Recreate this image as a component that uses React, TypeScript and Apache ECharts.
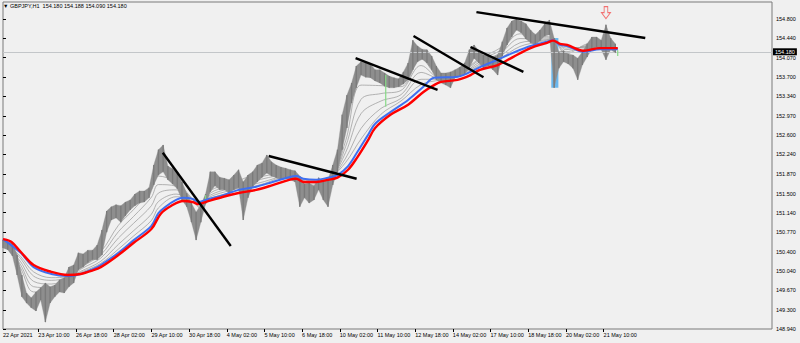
import React, { useEffect, useRef } from "react";
import * as echarts from "echarts";

// ---------- DATA ----------
const titleText = "▼ GBPJPY,H1  154.180 154.188 154.090 154.180";
const lastPrice = 154.18;

// x axis: hours since 22 Apr 2021 04:00 (H1 bars)
const tickHours = [0, 30, 62, 94, 126, 158, 190, 222, 254, 286, 318, 350, 382, 414, 446, 478, 510];
const tickLabels = [
  "22 Apr 2021", "23 Apr 10:00", "26 Apr 18:00", "28 Apr 02:00", "29 Apr 10:00", "30 Apr 18:00",
  "4 May 02:00", "5 May 10:00", "6 May 18:00", "10 May 02:00", "11 May 10:00", "12 May 18:00",
  "14 May 02:00", "17 May 10:00", "18 May 18:00", "20 May 02:00", "21 May 10:00",
];
const yTicks = [148.94, 149.3, 149.67, 150.04, 150.4, 150.77, 151.14, 151.5, 151.87, 152.24, 152.6, 152.97, 153.34, 153.7, 154.07, 154.44, 154.8];

// price ranges, one per 4 hours
const barStepHours = 4;
const barHigh = [
  150.62, 150.59, 150.57, 150.34, 149.96, 149.62, 149.53, 149.64, 149.72, 149.81,
  149.74, 149.77, 149.87, 149.91, 150.11, 150.15, 150.38, 150.36, 150.43, 150.43,
  150.53, 150.81, 151.17, 151.25, 151.29, 151.27, 151.34, 151.38, 151.49, 151.55,
  151.55, 151.61, 152.04, 152.33, 152.42, 152.02, 151.97, 151.87, 151.72, 151.51,
  151.32, 151.15, 151.29, 151.49, 151.91, 151.91, 151.81, 151.79, 151.76, 151.85,
  151.95, 151.72, 151.85, 151.91, 152.04, 152.08, 152.23, 152.10, 152.04, 152.00,
  151.98, 151.95, 151.93, 151.83, 151.68, 151.70, 151.64, 151.80, 151.72, 151.76,
  152.04, 152.33, 152.99, 153.36, 153.59, 153.91, 153.99, 153.97, 153.95, 153.84,
  153.84, 153.78, 153.72, 153.69, 153.67, 153.80, 153.97, 154.40, 154.29, 154.23,
  154.22, 154.10, 153.91, 153.78, 153.78, 153.80, 153.84, 153.89, 153.97, 154.22,
  154.31, 154.20, 154.12, 154.12, 154.08, 154.12, 154.37, 154.63, 154.76, 154.80,
  154.76, 154.71, 154.59, 154.50, 154.59, 154.71, 154.78, 154.44, 154.18, 154.20,
  154.14, 154.12, 154.06, 154.18, 154.33, 154.46, 154.46, 154.40, 154.69, 154.44,
  154.33,
];
const barLow = [
  150.47, 150.44, 150.32, 149.96, 149.55, 149.43, 149.34, 149.28, 149.49, 149.07,
  149.43, 149.55, 149.64, 149.62, 149.74, 149.81, 150.06, 150.11, 150.19, 150.25,
  150.25, 150.34, 150.77, 151.00, 151.04, 150.96, 151.08, 151.19, 151.27, 151.32,
  151.34, 151.42, 151.66, 151.85, 151.91, 151.76, 151.68, 151.59, 151.38, 151.25,
  150.96, 150.62, 150.96, 151.30, 151.53, 151.65, 151.57, 151.57, 151.51, 151.57,
  151.61, 151.00, 151.42, 151.63, 151.72, 151.81, 151.89, 151.83, 151.80, 151.76,
  151.78, 151.76, 151.72, 151.25, 151.42, 151.32, 151.38, 151.57, 151.38, 151.25,
  151.66, 151.91, 152.33, 152.74, 153.21, 153.50, 153.74, 153.70, 153.69, 153.63,
  153.59, 153.53, 153.50, 153.50, 153.52, 153.57, 153.65, 153.84, 153.99, 154.04,
  153.97, 153.84, 153.65, 153.59, 153.55, 153.50, 153.69, 153.72, 153.76, 153.87,
  154.06, 153.97, 153.87, 153.91, 153.84, 153.74, 154.10, 154.31, 154.46, 154.59,
  154.54, 154.42, 154.35, 154.31, 154.39, 154.48, 154.50, 153.50, 153.87, 153.99,
  153.95, 153.87, 153.65, 153.93, 154.08, 154.23, 154.27, 154.22, 154.03, 154.22,
  154.16,
];

// green bars: [hour, low, high]
const greenBars = [
  [172, 151.38, 151.47],
  [325, 153.14, 153.74],
  [522, 154.1, 154.21],
];

// slow moving averages
const redHours = [0, 7, 15, 26, 41, 55, 66, 75, 83, 98, 111, 126, 134, 143, 153, 161, 166, 172, 187, 200, 215, 229, 243, 249, 255, 266, 276, 284, 293, 301, 310, 316, 329, 344, 357, 366, 372, 386, 397, 405, 420, 433, 448, 462, 467, 473, 479, 493, 507, 522];
const redMA = [150.64, 150.59, 150.40, 150.15, 150.02, 149.96, 149.98, 150.04, 150.11, 150.34, 150.57, 150.83, 151.12, 151.27, 151.36, 151.34, 151.30, 151.34, 151.44, 151.51, 151.57, 151.66, 151.76, 151.78, 151.72, 151.72, 151.76, 151.80, 151.95, 152.19, 152.51, 152.74, 152.99, 153.18, 153.42, 153.55, 153.61, 153.65, 153.74, 153.84, 153.93, 154.08, 154.25, 154.35, 154.39, 154.33, 154.31, 154.20, 154.25, 154.25];
const blueHours = [0, 15, 26, 41, 55, 66, 75, 83, 98, 111, 126, 132, 138, 147, 153, 161, 166, 172, 187, 200, 215, 229, 243, 249, 255, 266, 276, 284, 293, 301, 310, 316, 329, 344, 357, 366, 386, 397, 405, 420, 433, 448, 462, 467, 473, 479, 493, 507, 522];
const blueMA = [150.64, 150.38, 150.11, 149.98, 149.94, 149.98, 150.06, 150.15, 150.38, 150.62, 150.89, 151.13, 151.25, 151.38, 151.42, 151.40, 151.34, 151.38, 151.47, 151.57, 151.63, 151.72, 151.81, 151.83, 151.78, 151.76, 151.80, 151.85, 152.02, 152.29, 152.61, 152.82, 153.04, 153.27, 153.52, 153.69, 153.71, 153.80, 153.89, 154.03, 154.16, 154.29, 154.37, 154.40, 154.31, 154.29, 154.18, 154.23, 154.23];

// grey ribbon of faster averages
const greyHours = [0, 15, 26, 41, 55, 66, 83, 98, 111, 126, 132, 147, 160, 168, 176, 193, 219, 244, 261, 278, 291, 304, 321, 338, 355, 372, 389, 405, 422, 439, 456, 467, 478, 499, 522];
const grey1 = [150.62, 150.09, 149.64, 149.66, 149.84, 150.13, 150.40, 150.90, 151.20, 151.58, 151.83, 151.72, 151.42, 151.21, 151.55, 151.68, 151.88, 151.90, 151.62, 151.76, 152.50, 153.55, 153.54, 153.52, 154.05, 153.68, 153.79, 154.06, 154.25, 154.61, 154.48, 154.44, 154.14, 154.34, 154.23];
const grey2 = [150.62, 150.15, 149.74, 149.72, 149.86, 150.10, 150.34, 150.78, 151.07, 151.43, 151.67, 151.64, 151.41, 151.24, 151.51, 151.64, 151.82, 151.88, 151.65, 151.77, 152.39, 153.28, 153.39, 153.45, 153.92, 153.67, 153.78, 154.03, 154.20, 154.52, 154.45, 154.43, 154.18, 154.31, 154.24];
const grey3 = [150.62, 150.21, 149.84, 149.79, 149.89, 150.07, 150.28, 150.66, 150.94, 151.27, 151.51, 151.57, 151.41, 151.28, 151.47, 151.60, 151.77, 151.86, 151.68, 151.79, 152.28, 153.01, 153.25, 153.37, 153.79, 153.67, 153.76, 153.99, 154.15, 154.43, 154.42, 154.42, 154.22, 154.29, 154.24];
const grey4 = [150.62, 150.27, 149.94, 149.86, 149.91, 150.03, 150.22, 150.54, 150.80, 151.11, 151.35, 151.49, 151.40, 151.31, 151.44, 151.56, 151.71, 151.84, 151.71, 151.80, 152.17, 152.73, 153.11, 153.30, 153.66, 153.66, 153.75, 153.95, 154.10, 154.35, 154.39, 154.42, 154.25, 154.27, 154.25];
const grey5 = [150.62, 150.31, 150.02, 149.91, 149.93, 150.01, 150.18, 150.45, 150.70, 150.99, 151.23, 151.44, 151.40, 151.33, 151.41, 151.52, 151.67, 151.83, 151.74, 151.81, 152.09, 152.53, 153.00, 153.25, 153.56, 153.65, 153.73, 153.92, 154.06, 154.28, 154.37, 154.41, 154.28, 154.25, 154.25];
const greyLines = [grey1, grey2, grey3, grey4, grey5];

// hand-drawn trend lines: [hour1, price1, hour2, price2]
const trendLines = [
  [135.7, 152.27, 193.4, 150.51],
  [225.6, 152.21, 300.3, 151.78],
  [299.4, 154.06, 369.0, 153.46],
  [348.6, 154.48, 408.0, 153.70],
  [397.0, 154.27, 441.9, 153.80],
  [402.0, 154.93, 545.4, 154.44],
];
// highlighted spike box: [hour1, priceTop, hour2, priceBottom]
const highlightBox = [465.6, 154.44, 471.6, 153.5];
// down arrow marker: [hour, price]
const arrowMark = [512, 154.92];

// ---------- CHART ----------
const FONT = "Liberation Sans";

function buildOption() {
  const pairs = (hs: number[], vs: number[]) => hs.map((h, i) => [h, vs[i]]);
  const barRender = (color: string, width: number) => (params: any, api: any) => {
    const h = api.value(0);
    const p1 = api.coord([h, api.value(2)]);
    const p2 = api.coord([h, api.value(1)]);
    return {
      type: "line",
      shape: { x1: p1[0], y1: p1[1], x2: p2[0], y2: p2[1] },
      style: { stroke: color, lineWidth: width },
    };
  };

  // price band segments between successive bars: [h, lo, hi, hNext, loNext, hiNext]
  const bandData = barHigh.slice(0, -1).map((hi, i) => [
    i * barStepHours, barLow[i], hi,
    (i + 1) * barStepHours, barLow[i + 1], barHigh[i + 1],
  ]);
  const bandRender = (params: any, api: any) => {
    const a = api.coord([api.value(0), api.value(2)]);
    const b = api.coord([api.value(3), api.value(5)]);
    const c = api.coord([api.value(3), api.value(4)]);
    const d = api.coord([api.value(0), api.value(1)]);
    return {
      type: "polygon",
      shape: { points: [a, b, c, d] },
      style: { fill: "#8e8e8e", stroke: "#8e8e8e", lineWidth: 0.3 },
    };
  };

  const series: any[] = [];

  // current price line (behind everything)
  series.push({
    type: "line",
    data: [],
    z: 1,
    silent: true,
    markLine: {
      silent: true,
      symbol: "none",
      animation: false,
      lineStyle: { color: "#c3c6c9", width: 1.2, type: "solid" },
      label: {
        show: true,
        position: "end",
        distance: 1,
        formatter: lastPrice.toFixed(3),
        color: "#ffffff",
        backgroundColor: "#000000",
        padding: [1, 2, 0, 2],
        fontSize: 5.5,
        fontFamily: FONT,
      },
      data: [{ yAxis: lastPrice }],
    },
  });

  greyLines.forEach((g) => {
    series.push({
      type: "line",
      data: pairs(greyHours, g),
      smooth: 0.35,
      symbol: "none",
      z: 2,
      lineStyle: { color: "#9c9c9c", width: 0.75 },
      silent: true,
    });
  });

  series.push({
    type: "custom",
    z: 3,
    silent: true,
    renderItem: bandRender,
    data: bandData,
    encode: { x: [0, 3], y: [1, 2, 4, 5] },
  });

  // highlight box above the band, below the bars
  series.push({
    type: "line",
    data: [],
    z: 4,
    silent: true,
    markArea: {
      silent: true,
      itemStyle: { color: "#6ab7ee" },
      data: [[{ coord: [highlightBox[0], highlightBox[1]] }, { coord: [highlightBox[2], highlightBox[3]] }]],
    },
  });

  series.push({
    type: "custom",
    z: 5,
    silent: true,
    renderItem: barRender("#7a7a7a", 1.3),
    data: barHigh.map((hi, i) => [i * barStepHours, barLow[i], hi]),
    encode: { x: 0, y: [1, 2] },
  });
  series.push({
    type: "custom",
    z: 5,
    silent: true,
    renderItem: barRender("#86d986", 1.2),
    data: greenBars,
    encode: { x: 0, y: [1, 2] },
  });

  series.push({
    type: "line",
    data: pairs(blueHours, blueMA),
    smooth: 0.35,
    symbol: "none",
    z: 6,
    lineStyle: { color: "#3f6ff0", width: 2 },
    silent: true,
  });
  series.push({
    type: "line",
    data: pairs(redHours, redMA),
    smooth: 0.35,
    symbol: "none",
    z: 7,
    lineStyle: { color: "#ff0000", width: 2.4 },
    silent: true,
  });

  trendLines.forEach((t) => {
    series.push({
      type: "line",
      data: [[t[0], t[1]], [t[2], t[3]]],
      symbol: "none",
      z: 8,
      lineStyle: { color: "#000000", width: 2.4 },
      silent: true,
    });
  });

  series.push({
    type: "scatter",
    data: [arrowMark],
    z: 9,
    symbol: "path://M3,0L7,0L7,6L10,6L5,12L0,6L3,6Z",
    symbolSize: [9, 12],
    itemStyle: { color: "rgba(0,0,0,0)", borderColor: "#f25050", borderWidth: 1 },
    silent: true,
  });

  return {
    animation: false,
    backgroundColor: "#f0f0f0",
    textStyle: { fontFamily: FONT },
    title: {
      text: titleText,
      left: 3,
      top: 3,
      padding: 0,
      textStyle: { fontSize: 5.5, fontWeight: "normal", color: "#000", fontFamily: FONT },
    },
    grid: {
      left: 2,
      right: 28,
      top: 2,
      bottom: 14,
      show: true,
      borderColor: "#7a7a7a",
      borderWidth: 1,
      backgroundColor: "transparent",
    },
    xAxis: {
      type: "value",
      min: 0,
      max: 653,
      axisLine: { show: false },
      splitLine: { show: false },
      axisTick: { show: true, customValues: tickHours.slice(1), length: 3, lineStyle: { color: "#000" } },
      axisLabel: {
        customValues: tickHours,
        formatter: (v: number) => {
          const k = tickHours.indexOf(Math.round(v));
          return k >= 0 ? tickLabels[k] : "";
        },
        align: "left",
        margin: 3,
        fontSize: 5.5,
        color: "#000",
        fontFamily: FONT,
      },
    },
    yAxis: {
      type: "value",
      position: "right",
      min: 148.94,
      max: 155.121,
      axisLine: { show: false },
      splitLine: { show: false },
      axisTick: { show: true, customValues: yTicks, length: 3, lineStyle: { color: "#000" } },
      axisLabel: {
        customValues: yTicks,
        formatter: (v: number) => v.toFixed(3),
        align: "left",
        margin: 4,
        fontSize: 5.5,
        color: "#000",
        fontFamily: FONT,
      },
    },
    series,
  };
}

export default function App() {
  const ref = useRef<HTMLDivElement>(null);
  useEffect(() => {
    document.body.style.margin = "0";
    const chart = echarts.init(ref.current!, null, { renderer: "svg" });
    chart.setOption(buildOption() as any);
    return () => chart.dispose();
  }, []);
  return <div ref={ref} style={{ width: 800, height: 343, background: "#f0f0f0" }} />;
}
